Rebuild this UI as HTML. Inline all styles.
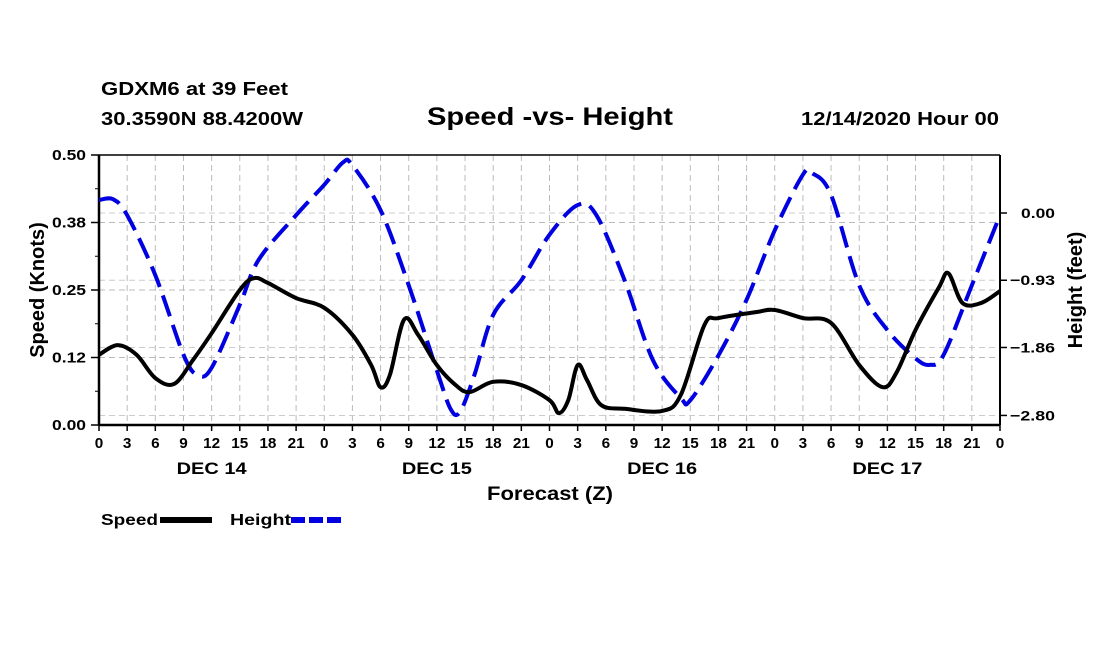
<!DOCTYPE html>
<html><head><meta charset="utf-8"><style>
body{margin:0;background:#fff;}
svg text{font-family:"Liberation Sans",Arial,sans-serif;font-weight:bold;fill:#000;}
</style></head><body>
<svg width="1100" height="650" viewBox="0 0 1100 650" xmlns="http://www.w3.org/2000/svg">
<text x="101" y="95" font-size="18" textLength="187" lengthAdjust="spacingAndGlyphs">GDXM6 at 39 Feet</text>
<text x="101" y="125" font-size="18" textLength="202" lengthAdjust="spacingAndGlyphs">30.3590N 88.4200W</text>
<text x="427" y="125" font-size="25" textLength="246" lengthAdjust="spacingAndGlyphs">Speed -vs- Height</text>
<text x="801" y="125" font-size="18" textLength="198" lengthAdjust="spacingAndGlyphs">12/14/2020 Hour 00</text>
<g id="grid"></g>
<g id="axes"></g>
<g id="series"></g>
<text transform="translate(44,290) rotate(-90)" font-size="20" text-anchor="middle">Speed (Knots)</text>
<text transform="translate(1082,290) rotate(-90)" font-size="20" text-anchor="middle">Height (feet)</text>
<text x="487" y="500" font-size="19" textLength="126" lengthAdjust="spacingAndGlyphs">Forecast (Z)</text>
<g>
<text x="101" y="525" font-size="16" textLength="57" lengthAdjust="spacingAndGlyphs">Speed</text>
<line x1="160" y1="520" x2="212" y2="520" stroke="#000" stroke-width="6"/>
<text x="230" y="525" font-size="16" textLength="61" lengthAdjust="spacingAndGlyphs">Height</text>
<line x1="291" y1="520" x2="342" y2="520" stroke="#0000e0" stroke-width="6" stroke-dasharray="14,4"/>
</g>
</svg>
<script>
const speedHours=[0,2,4,6,8,10,12,15,16.5,18,21,24,27,29,30,31,32.5,34,36,38,39.5,42,45,48,49,50,51,52,53.5,56,60,62,64.5,66,70,72,75,78,81,83.5,85,87,89.5,90.5,92,94,96];
const speedValues=[0.13,0.148,0.13,0.087,0.076,0.12,0.17,0.25,0.272,0.263,0.235,0.217,0.167,0.111,0.07,0.093,0.195,0.167,0.111,0.074,0.061,0.080,0.074,0.046,0.022,0.046,0.111,0.083,0.037,0.030,0.026,0.056,0.185,0.198,0.209,0.213,0.198,0.189,0.111,0.07,0.098,0.176,0.255,0.281,0.226,0.226,0.248];
const heightHours=[0,1.5,3,6,9,10.5,12,15,17,21,24,26,27,30,33,36,37.5,38.5,40,42,45,48,51,53,56,59,62,63,66,69,72,75,76,78,81,84,87,88.5,90,93,96];
const heightValues=[0.18,0.19,-0.03,-0.86,-1.96,-2.24,-2.14,-1.27,-0.65,-0.03,0.39,0.70,0.66,0.04,-1.0,-2.18,-2.72,-2.74,-2.24,-1.41,-0.93,-0.30,0.11,-0.03,-0.93,-2.03,-2.56,-2.59,-1.97,-1.20,-0.24,0.53,0.55,0.25,-1.0,-1.62,-2.01,-2.10,-1.96,-1.0,-0.03];
const leftTicks=[0,0.125,0.25,0.375,0.5];
const leftTickLabels=["0.00","0.12","0.25","0.38","0.50"];
const rightTicks=[0,-0.93,-1.86,-2.80];
const rightTickLabels=["0.00","\u22120.93","\u22121.86","\u22122.80"];
const xTicks=[0,3,6,9,12,15,18,21,24,27,30,33,36,39,42,45,48,51,54,57,60,63,66,69,72,75,78,81,84,87,90,93,96];
const dayLabels=["DEC 14","DEC 15","DEC 16","DEC 17"];
const dayCenters=[12,36,60,84];

const X0=99,X1=1000,Y0=155,Y1=425;
const xs=h=>X0+(h/96)*(X1-X0);
const ys=v=>Y1-(v/0.5)*(Y1-Y0);
const yh=f=>213-f*72.3;
const NS="http://www.w3.org/2000/svg";
function mk(tag,attrs,parent){const e=document.createElementNS(NS,tag);for(const k in attrs)e.setAttribute(k,attrs[k]);parent.appendChild(e);return e;}
const grid=document.getElementById('grid'),axes=document.getElementById('axes'),series=document.getElementById('series');
xTicks.forEach((h,i)=>{
  if(h>0&&h<96){const l=mk('line',{x1:xs(h),x2:xs(h),y1:Y0,y2:Y1,stroke:'#bbb','stroke-width':1,'stroke-dasharray':'6,4'},grid);
  
  }
  const t=mk('line',{x1:xs(h),x2:xs(h),y1:Y1,y2:Y1+6,stroke:'#000','stroke-width':1.5},axes);
  
  
  const s=String(h%24);
  const tx=mk('text',{x:xs(h),y:Y1+23,'font-size':15,'text-anchor':'middle',textLength:s.length*8.5,lengthAdjust:'spacingAndGlyphs'},axes);
  tx.textContent=s;
  
  
});
dayLabels.forEach((d,i)=>{const t=mk('text',{x:xs(dayCenters[i])-35,y:474,'font-size':17,textLength:70,lengthAdjust:'spacingAndGlyphs'},axes);t.textContent=d;

});
leftTicks.forEach((v,i)=>{
  if(v>0&&v<0.5){const g=mk('line',{x1:X0,x2:X1,y1:ys(v),y2:ys(v),stroke:'#bbb','stroke-width':1,'stroke-dasharray':'6,4'},grid);
  
  }
  const t=mk('line',{x1:X0-8,x2:X0,y1:ys(v),y2:ys(v),stroke:'#000','stroke-width':1.5},axes);
  
  
  const tx=mk('text',{x:X0-47,y:ys(v)+5,'font-size':15,textLength:34,lengthAdjust:'spacingAndGlyphs'},axes);tx.textContent=leftTickLabels[i];
  
  
});
for(let v=0.0625;v<0.5;v+=0.125){const t=mk('line',{x1:X0-4,x2:X0,y1:ys(v),y2:ys(v),stroke:'#000','stroke-width':1},axes);

}
rightTicks.forEach((f,i)=>{
  const g=mk('line',{x1:X0,x2:X1,y1:yh(f),y2:yh(f),stroke:'#ccc','stroke-width':1,'stroke-dasharray':'6,4'},grid);
  
  
  const t=mk('line',{x1:X1,x2:X1+7,y1:yh(f),y2:yh(f),stroke:'#000','stroke-width':1.5},axes);
  
  
  const s=rightTickLabels[i];
  const tx=mk('text',{x:s.length>4?X1+10:X1+21,y:yh(f)+5,'font-size':14,textLength:s.length>4?45:34,lengthAdjust:'spacingAndGlyphs'},axes);tx.textContent=s;
  
  
});
[[X0,Y0,X0,Y1,2.5],[X0,Y1,X1,Y1,2.5],[X1,Y0,X1,Y1,2],[X0,Y0,X1,Y0,1.5]].forEach(a=>{const l=mk('line',{x1:a[0],y1:a[1],x2:a[2],y2:a[3],stroke:'#000','stroke-width':a[4]},axes);

});
function smooth(pts){let d='M'+pts[0][0]+','+pts[0][1];
  for(let i=0;i<pts.length-1;i++){const p0=pts[Math.max(0,i-1)],p1=pts[i],p2=pts[i+1],p3=pts[Math.min(pts.length-1,i+2)];
    d+=' C'+(p1[0]+(p2[0]-p0[0])/6)+','+(p1[1]+(p2[1]-p0[1])/6)+' '+(p2[0]-(p3[0]-p1[0])/6)+','+(p2[1]-(p3[1]-p1[1])/6)+' '+p2[0]+','+p2[1];}
  return d;}
const hp=mk('path',{d:smooth(heightHours.map((h,i)=>[xs(h),yh(heightValues[i])])),fill:'none',stroke:'#0000e0','stroke-width':4,'stroke-dasharray':'22,9'},series);


const sp=mk('path',{d:smooth(speedHours.map((h,i)=>[xs(h),ys(speedValues[i])])),fill:'none',stroke:'#000','stroke-width':4,'stroke-linejoin':'round'},series);


</script>
</body></html>
